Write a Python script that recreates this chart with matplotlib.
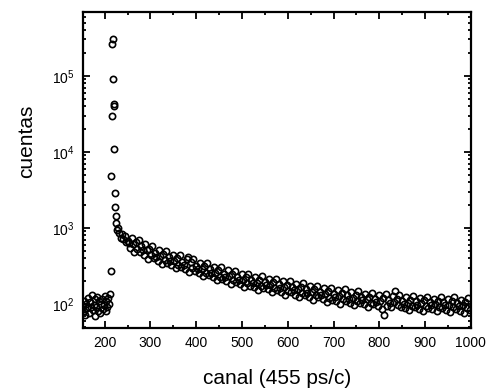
import numpy as np
import matplotlib.pyplot as plt
from matplotlib.ticker import LogLocator, MultipleLocator, NullFormatter

plt.rcParams['font.family'] = ['Liberation Sans', 'DejaVu Sans']
plt.rcParams['mathtext.fontset'] = 'custom'
plt.rcParams['mathtext.rm'] = 'Liberation Sans'

# background before the peak (every 2 channels)
bg_ch = list(range(152, 213, 2))
bg_counts = [95, 80, 110, 72, 100, 88, 120, 76, 105, 92, 130, 84, 98, 70, 115, 90,
             125, 82, 108, 75, 100, 118, 86, 96, 128, 80, 110, 92, 120, 100, 135]

# peak region
peak_ch = [214, 215, 216, 217, 218, 219, 220, 220, 221, 222, 223, 224, 225]
peak_counts = [270, 4800, 30000, 260000, 300000, 90000, 42000, 40000, 11000,
               2900, 1900, 1450, 1170]

# slow tail (every 3 channels)
tail_ch = list(range(226, 998, 3))
tail_counts = [
    950, 1000, 870, 740, 820, 710, 790, 650, 680, 630,
    544, 738, 610, 476, 644, 529, 701, 488, 572, 514,
    446, 608, 505, 396, 534, 437, 577, 400, 467, 418,
    368, 505, 423, 334, 453, 374, 498, 349, 412, 372,
    325, 445, 372, 294, 398, 328, 436, 305, 359, 324,
    288, 394, 420, 261, 354, 293, 388, 272, 320, 290,
    253, 348, 292, 230, 314, 259, 345, 242, 286, 257,
    225, 309, 258, 204, 277, 228, 304, 213, 251, 227,
    201, 276, 232, 184, 250, 206, 275, 193, 228, 206,
    181, 248, 208, 165, 224, 186, 248, 174, 207, 187,
    165, 227, 191, 152, 207, 172, 231, 163, 193, 176,
    155, 214, 180, 142, 195, 162, 216, 152, 181, 163,
    144, 198, 166, 132, 180, 150, 201, 142, 168, 152,
    133, 184, 155, 123, 168, 140, 186, 131, 155, 141,
    124, 171, 144, 114, 156, 130, 174, 122, 145, 132,
    116, 160, 135, 107, 146, 121, 162, 114, 135, 124,
    110, 151, 127, 101, 139, 115, 155, 109, 130, 118,
    104, 144, 121, 97, 132, 110, 148, 104, 123, 112,
    99, 137, 115, 91, 125, 104, 139, 99, 117, 107,
    94, 130, 109, 87, 120, 72, 134, 95, 113, 103,
    91, 126, 107, 150, 117, 98, 131, 92, 110, 101,
    89, 123, 104, 83, 114, 95, 128, 91, 108, 98,
    87, 120, 102, 82, 112, 93, 125, 89, 106, 97,
    85, 118, 100, 80, 110, 92, 124, 88, 105, 96,
    83, 116, 98, 78, 108, 90, 122, 86, 103, 94,
    82, 113, 96, 77, 106, 88, 119, 84]

canal = bg_ch + peak_ch + tail_ch
cuentas = bg_counts + peak_counts + tail_counts

fig = plt.figure(figsize=(4.89, 3.89), dpi=100)
ax = fig.add_axes([0.169, 0.158, 0.794, 0.810])

ax.plot(canal, cuentas, 'o', mfc='none', mec='black', mew=1.2, ms=4.5)

ax.set_yscale('log')
ax.set_xlim(152, 1000)
ax.set_ylim(49, 6.8e5)

ax.xaxis.set_major_locator(MultipleLocator(100))
ax.xaxis.set_minor_locator(MultipleLocator(50))
ax.yaxis.set_major_locator(LogLocator(base=10, numticks=10))
ax.yaxis.set_minor_locator(LogLocator(base=10, subs=np.arange(2, 10), numticks=20))
ax.yaxis.set_minor_formatter(NullFormatter())

ax.tick_params(which='both', direction='in', top=True, right=True, width=1.3)
ax.tick_params(which='major', length=5, labelsize=10, pad=6)
ax.tick_params(which='minor', length=2.5)
for s in ax.spines.values():
    s.set_linewidth(1.6)

fig.text(277 / 489, 1 - 378 / 389, 'canal (455 ps/c)', ha='center', va='center', fontsize=15)
fig.text(27 / 489, 1 - 141 / 389, 'cuentas', rotation=90, ha='center', va='center', fontsize=15)

fig.savefig('out.png', dpi=100)
